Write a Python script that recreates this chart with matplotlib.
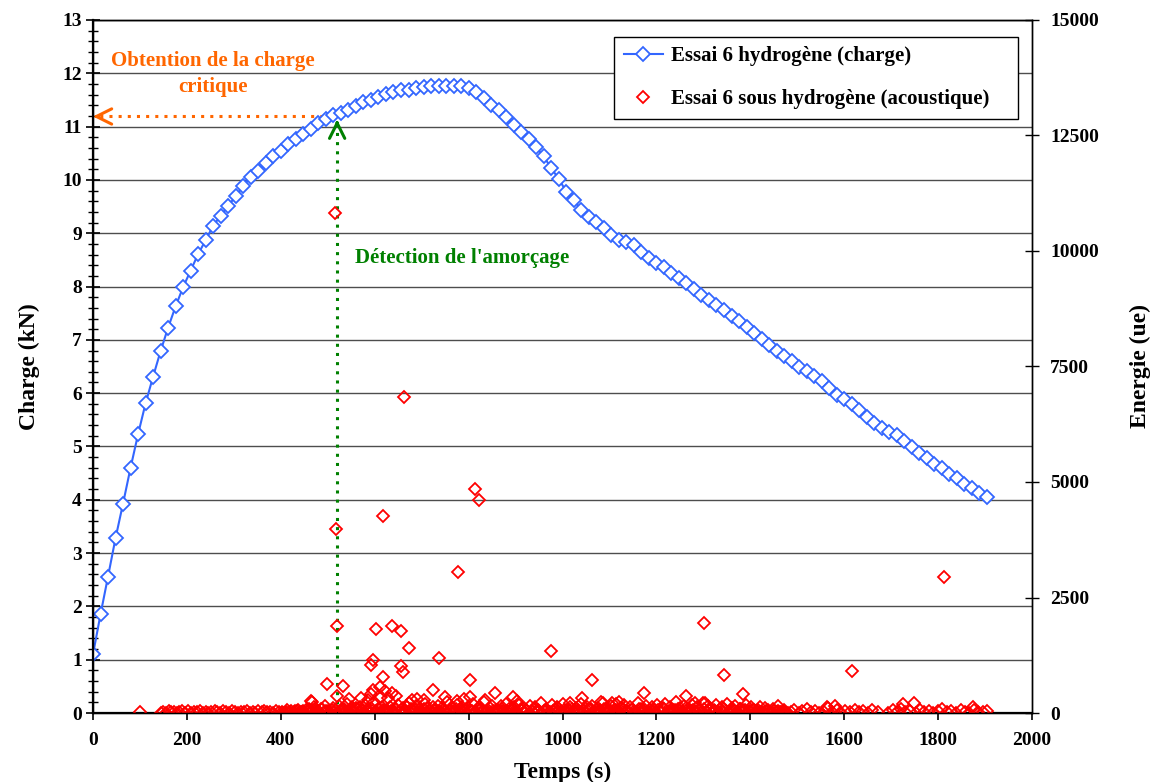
import matplotlib
matplotlib.use("Agg")
import matplotlib.pyplot as plt

plt.rcParams['font.family'] = ['Liberation Serif', 'DejaVu Serif']
plt.rcParams['font.weight'] = 'bold'
plt.rcParams['axes.labelweight'] = 'bold'

# ---------------- data ----------------
charge_t = [0, 16, 32, 48, 64, 80, 96, 112, 128, 144,
            160, 176, 192, 208, 224, 240, 256, 272, 288, 304,
            320, 336, 352, 368, 384, 400, 416, 432, 448, 464,
            480, 496, 512, 528, 544, 560, 576, 592, 608, 624,
            640, 656, 672, 688, 704, 720, 736, 752, 768, 784,
            800, 816, 832, 848, 864, 880, 896, 912, 928, 944,
            960, 976, 992, 1008, 1024, 1040, 1056, 1072, 1088, 1104,
            1120, 1136, 1152, 1168, 1184, 1200, 1216, 1232, 1248, 1264,
            1280, 1296, 1312, 1328, 1344, 1360, 1376, 1392, 1408, 1424,
            1440, 1456, 1472, 1488, 1504, 1520, 1536, 1552, 1568, 1584,
            1600, 1616, 1632, 1648, 1664, 1680, 1696, 1712, 1728, 1744,
            1760, 1776, 1792, 1808, 1824, 1840, 1856, 1872, 1888, 1904]
charge_kN = [1.10, 1.85, 2.56, 3.28, 3.93, 4.60, 5.23, 5.81, 6.31, 6.79,
             7.23, 7.63, 7.99, 8.30, 8.61, 8.87, 9.14, 9.33, 9.51, 9.70,
             9.88, 10.06, 10.16, 10.32, 10.44, 10.55, 10.67, 10.76, 10.86, 10.96,
             11.07, 11.14, 11.21, 11.26, 11.32, 11.38, 11.46, 11.49, 11.56, 11.61,
             11.64, 11.68, 11.69, 11.72, 11.74, 11.77, 11.77, 11.76, 11.76, 11.77,
             11.73, 11.64, 11.53, 11.41, 11.31, 11.18, 11.03, 10.89, 10.77, 10.61,
             10.44, 10.22, 10.02, 9.78, 9.62, 9.44, 9.31, 9.21, 9.09, 8.97,
             8.88, 8.83, 8.78, 8.65, 8.54, 8.44, 8.36, 8.26, 8.16, 8.06,
             7.95, 7.85, 7.75, 7.66, 7.56, 7.45, 7.35, 7.24, 7.13, 7.02,
             6.91, 6.80, 6.70, 6.60, 6.49, 6.41, 6.32, 6.22, 6.09, 5.97,
             5.89, 5.79, 5.68, 5.55, 5.44, 5.35, 5.28, 5.21, 5.11, 4.99,
             4.88, 4.78, 4.68, 4.59, 4.48, 4.40, 4.30, 4.22, 4.12, 4.06]

# acoustic events: isolated energetic events
peak_t = [101, 515, 517, 519, 498, 532, 520, 466, 617, 662,
          814, 823, 777, 975, 603, 636, 657, 672, 736, 596,
          592, 655, 661, 618, 804, 725, 856, 804, 894, 904,
          775, 679, 637, 611, 597, 621, 614, 593, 1813, 1302,
          1617, 1062, 1345, 1384, 1174, 1041, 1264, 1282, 1304, 1083,
          1121, 1105, 1017, 1460, 1726, 1749, 1875, 1563, 1580, 465,
          545, 570, 585, 628, 645, 690, 705, 750, 790, 835]
peak_e = [15, 10830, 3990, 1890, 620, 590, 375, 245, 4270, 6840,
          4850, 4610, 3050, 1350, 1810, 1890, 1780, 1400, 1180, 1140,
          1030, 1020, 890, 790, 710, 505, 440, 355, 355, 270,
          270, 280, 425, 555, 500, 485, 355, 410, 2950, 1940,
          910, 715, 815, 420, 425, 330, 365, 210, 225, 240,
          240, 210, 225, 150, 195, 210, 135, 135, 150, 260,
          300, 330, 280, 320, 360, 300, 290, 340, 310, 290]

# acoustic events: low energy background (before loading peak)
band1_t = [145, 150, 156, 161, 166, 172, 178, 184, 190, 196,
           203, 209, 215, 221, 228, 234, 240, 246, 252, 259,
           265, 271, 277, 284, 290, 296, 302, 309, 315, 321,
           328, 334, 340, 346, 352, 359, 365, 371, 378, 384,
           390, 396]
band1_e = [10, 25, 5, 40, 15, 30, 0, 20, 35, 10,
           45, 5, 25, 15, 50, 10, 30, 0, 20, 40,
           15, 5, 35, 25, 10, 45, 20, 0, 30, 15,
           40, 10, 25, 5, 35, 20, 50, 15, 30, 10,
           45, 25]

# acoustic events: dense background during damage
band2_t = [402, 408, 413, 419, 425, 431, 436, 442, 448, 454,
           459, 465, 471, 477, 482, 488, 494, 500, 505, 511,
           517, 523, 528, 534, 540, 546, 551, 557, 563, 569,
           574, 580, 586, 592, 597, 603, 609, 615, 620, 626,
           632, 638, 643, 649, 655, 661, 666, 672, 678, 684,
           689, 695, 701, 707, 712, 718, 724, 730, 735, 741,
           747, 753, 758, 764, 770, 776, 781, 787, 793, 799,
           804, 810, 816, 822, 827, 833, 839, 845, 850, 856,
           862, 868, 873, 879, 885, 891, 896, 902, 908, 914,
           919, 925, 931, 937, 942, 948, 954, 960, 965, 971,
           977, 983, 988, 994, 1000, 1006, 1011, 1017, 1023, 1029,
           1034, 1040, 1046, 1052, 1057, 1063, 1069, 1075, 1080, 1086,
           1092, 1098, 1103, 1109, 1115, 1121, 1126, 1132, 1138, 1144,
           1149, 1155, 1161, 1167, 1172, 1178, 1184, 1190, 1195, 1201,
           1207, 1213, 1218, 1224, 1230, 1236, 1241, 1247, 1253, 1259,
           1264, 1270, 1276, 1282, 1287, 1293, 1299, 1305, 1310, 1316,
           1322, 1328, 1333, 1339, 1345, 1351, 1356, 1362, 1368, 1374,
           1379, 1385, 1391, 1397, 1402, 1408, 1414, 1420, 1425, 1431,
           1437, 1443, 1448, 1454, 1460, 1466, 1471, 1477]
band2_e = [30, 10, 55, 20, 5, 40, 70, 15, 35, 60,
           90, 25, 130, 50, 10, 80, 160, 40, 20, 110,
           70, 150, 30, 95, 200, 45, 120, 15, 85, 140,
           60, 180, 25, 110, 220, 50, 90, 140, 35, 75,
           130, 20, 95, 170, 55, 115, 30, 210, 80, 45,
           150, 65, 25, 190, 100, 40, 135, 70, 160, 20,
           95, 230, 50, 120, 15, 175, 85, 140, 40, 105,
           60, 195, 30, 125, 80, 240, 45, 110, 160, 20,
           70, 145, 35, 205, 90, 55, 120, 25, 180, 65,
           100, 40, 155, 20, 130, 75, 215, 50, 95, 30,
           170, 60, 120, 25, 185, 45, 90, 140, 15, 110,
           65, 200, 35, 130, 80, 160, 20, 115, 55, 225,
           90, 40, 145, 70, 190, 25, 105, 165, 50, 135,
           80, 30, 210, 95, 60, 150, 20, 125, 75, 175,
           45, 110, 195, 30, 140, 65, 240, 85, 20, 155,
           100, 50, 180, 35, 125, 70, 215, 25, 145, 90,
           55, 165, 30, 120, 80, 200, 40, 110, 150, 20,
           95, 60, 170, 35, 125, 75, 45, 140, 25, 105,
           60, 30, 90, 15, 50, 25, 70, 10]

band2b_t = [405, 411, 416, 422, 428, 434, 439, 445, 451, 457,
            462, 468, 474, 480, 485, 491, 497, 503, 508, 514,
            520, 526, 531, 537, 543, 549, 554, 560, 566, 572,
            577, 583, 589, 595, 600, 606, 612, 618, 623, 629,
            635, 641, 646, 652, 658, 664, 669, 675, 681, 687,
            692, 698, 704, 710, 715, 721, 727, 733, 738, 744,
            750, 756, 761, 767, 773, 779, 784, 790, 796, 802,
            807, 813, 819, 825, 830, 836, 842, 848, 853, 859,
            865, 871, 876, 882, 888, 894, 899, 905, 911, 917,
            922, 928, 934, 940, 945, 951, 957, 963, 968, 974,
            980, 986, 991, 997, 1003, 1009, 1014, 1020, 1026, 1032,
            1037, 1043, 1049, 1055, 1060, 1066, 1072, 1078, 1083, 1089,
            1095, 1101, 1106, 1112, 1118, 1124, 1129, 1135, 1141, 1147,
            1152, 1158, 1164, 1170, 1175, 1181, 1187, 1193, 1198, 1204,
            1210, 1216, 1221, 1227, 1233, 1239, 1244, 1250, 1256, 1262,
            1267, 1273, 1279, 1285, 1290, 1296, 1302, 1308, 1313, 1319,
            1325, 1331, 1336, 1342, 1348, 1354, 1359, 1365, 1371, 1377,
            1382, 1388, 1394, 1400, 1405, 1411, 1417, 1423, 1428, 1434,
            1440, 1446, 1451, 1457, 1463, 1469, 1474, 1480]
band2b_e = [5, 20, 0, 35, 15, 50, 5, 25, 10, 45,
            15, 60, 5, 35, 90, 20, 50, 10, 70, 30,
            0, 40, 85, 20, 10, 55, 30, 100, 5, 45,
            25, 70, 10, 40, 15, 95, 5, 60, 30, 20,
            50, 10, 80, 25, 0, 45, 120, 15, 35, 65,
            10, 40, 90, 5, 55, 25, 70, 15, 45, 100,
            30, 5, 60, 20, 85, 10, 45, 25, 0, 70,
            35, 15, 95, 5, 50, 20, 75, 10, 40, 60,
            20, 85, 5, 45, 15, 110, 30, 0, 55, 25,
            65, 10, 40, 90, 20, 50, 5, 35, 75, 15,
            45, 5, 100, 25, 60, 15, 35, 80, 10, 50,
            20, 70, 5, 40, 95, 25, 55, 10, 30, 85,
            15, 50, 5, 65, 30, 100, 20, 45, 10, 75,
            40, 15, 90, 5, 55, 25, 70, 35, 0, 60,
            25, 80, 10, 45, 20, 65, 5, 110, 30, 50,
            10, 40, 75, 20, 55, 5, 90, 30, 60, 15,
            45, 10, 85, 25, 50, 5, 70, 35, 15, 95,
            20, 55, 5, 40, 75, 15, 60, 30, 10, 45,
            25, 5, 40, 15, 30, 0, 20, 10]

# acoustic events: sparse background at end of test
band3_t = [1486, 1494, 1503, 1511, 1520, 1530, 1538, 1547, 1556, 1565,
           1575, 1584, 1593, 1602, 1612, 1622, 1631, 1640, 1650, 1660,
           1672, 1694, 1703, 1712, 1720, 1730, 1740, 1752, 1761, 1770,
           1780, 1790, 1800, 1808, 1818, 1828, 1838, 1848, 1858, 1866,
           1876, 1886, 1896, 1905]
band3_e = [20, 60, 10, 40, 80, 15, 50, 5, 30, 100,
           20, 60, 10, 45, 25, 70, 15, 35, 5, 55,
           20, 10, 60, 30, 90, 15, 40, 5, 75, 20,
           50, 10, 35, 85, 15, 45, 5, 60, 25, 10,
           70, 30, 15, 50]

x_ticks = list(range(0, 2001, 200))
y_ticks = list(range(0, 14))
y2_ticks = [0, 2500, 5000, 7500, 10000, 12500, 15000]

critical_t, critical_kN = 508, 11.19
detect_t, detect_kN = 520, 11.13

# ---------------- figure ----------------
blue = '#3366FF'
red = '#FF0000'
orange = '#FF6600'
green = '#008000'

fig = plt.figure(figsize=(11.52, 7.82), dpi=100)
ax = fig.add_axes([93/1152, 1-713/782, (1032-93)/1152, (713-20)/782])
ax2 = ax.twinx()

ax.set_xlim(0, 2000)
ax.set_ylim(0, 13)
ax2.set_ylim(0, 15000)

ax.set_yticks(y_ticks)
ax.set_yticks([v/5 for v in range(0, 66)], minor=True)
ax.set_xticks(x_ticks)
ax2.set_yticks(y2_ticks)

ax.grid(axis='y', which='major', color='#4d4d4d', linewidth=1.0)
ax.set_axisbelow(True)

for a in (ax, ax2):
    for s in a.spines.values():
        s.set_color('black')
        s.set_linewidth(1.0)
ax.spines['left'].set_linewidth(1.6)
ax.spines['bottom'].set_linewidth(1.6)

ax.tick_params(axis='y', which='major', direction='inout', length=10, width=1.2, labelsize=14, pad=3)
ax.tick_params(axis='y', which='minor', direction='inout', length=7, width=1.0)
ax.tick_params(axis='x', which='major', direction='out', length=5, width=1.2, labelsize=14, pad=9)
ax2.tick_params(axis='y', which='major', direction='inout', length=10, width=1.0, labelsize=14, pad=8)

ax.set_xlabel('Temps (s)', fontsize=17, labelpad=9)
ax.set_ylabel('Charge (kN)', fontsize=17, labelpad=16)
ax2.set_ylabel('Energie (ue)', fontsize=17, labelpad=22)

# acoustic scatter (right axis)
sc_kw = dict(linestyle='none', marker='D', markersize=6.5, markerfacecolor='none',
             markeredgecolor=red, markeredgewidth=1.3)
ax2.plot(band1_t, band1_e, **sc_kw)
ax2.plot(band2_t, band2_e, **sc_kw)
ax2.plot(band2b_t, band2b_e, **sc_kw)
ax2.plot(band3_t, band3_e, **sc_kw)
h_ac, = ax2.plot(peak_t, peak_e, **sc_kw)

# charge curve (left axis)
h_ch, = ax.plot(charge_t, charge_kN, color=blue, linewidth=1.5, marker='D', markersize=7,
                markerfacecolor='white', markeredgecolor=blue, markeredgewidth=1.3, zorder=3)

# annotations
ax.plot([critical_t, 8], [critical_kN, critical_kN], linestyle=(0, (1, 2)), color=orange, linewidth=2.2)
ax.annotate('', xy=(0, critical_kN), xytext=(12, critical_kN),
            arrowprops=dict(arrowstyle='->,head_length=1.1,head_width=0.55', color=orange, lw=2.2,
                            shrinkA=0, shrinkB=0))
ax.text(256, 11.98, 'Obtention de la charge\ncritique', color=orange,
        fontsize=15, ha='center', va='center', linespacing=1.4)

ax.plot([detect_t, detect_t], [0, detect_kN - 0.1], linestyle=(0, (1, 2)), color=green, linewidth=2.2)
ax.annotate('', xy=(detect_t, detect_kN), xytext=(detect_t, detect_kN - 0.1),
            arrowprops=dict(arrowstyle='->,head_length=1.1,head_width=0.55', color=green, lw=2.2,
                            shrinkA=0, shrinkB=0))
ax.text(558, 8.53, "Détection de l'amorçage", color=green, fontsize=15, ha='left', va='center')

leg = ax2.legend([h_ch, h_ac], ['Essai 6 hydrogène (charge)', 'Essai 6 sous hydrogène (acoustique)'],
                 loc='upper left', bbox_to_anchor=(0.555, 0.867, 0.43, 0.1085), mode='expand',
                 fontsize=15, frameon=True,
                 fancybox=False, edgecolor='black', framealpha=1, borderpad=0.45, labelspacing=1.1,
                 handlelength=1.9, handletextpad=0.4, borderaxespad=0)
leg.get_frame().set_linewidth(1.0)

fig.savefig('out.png', dpi=100)
